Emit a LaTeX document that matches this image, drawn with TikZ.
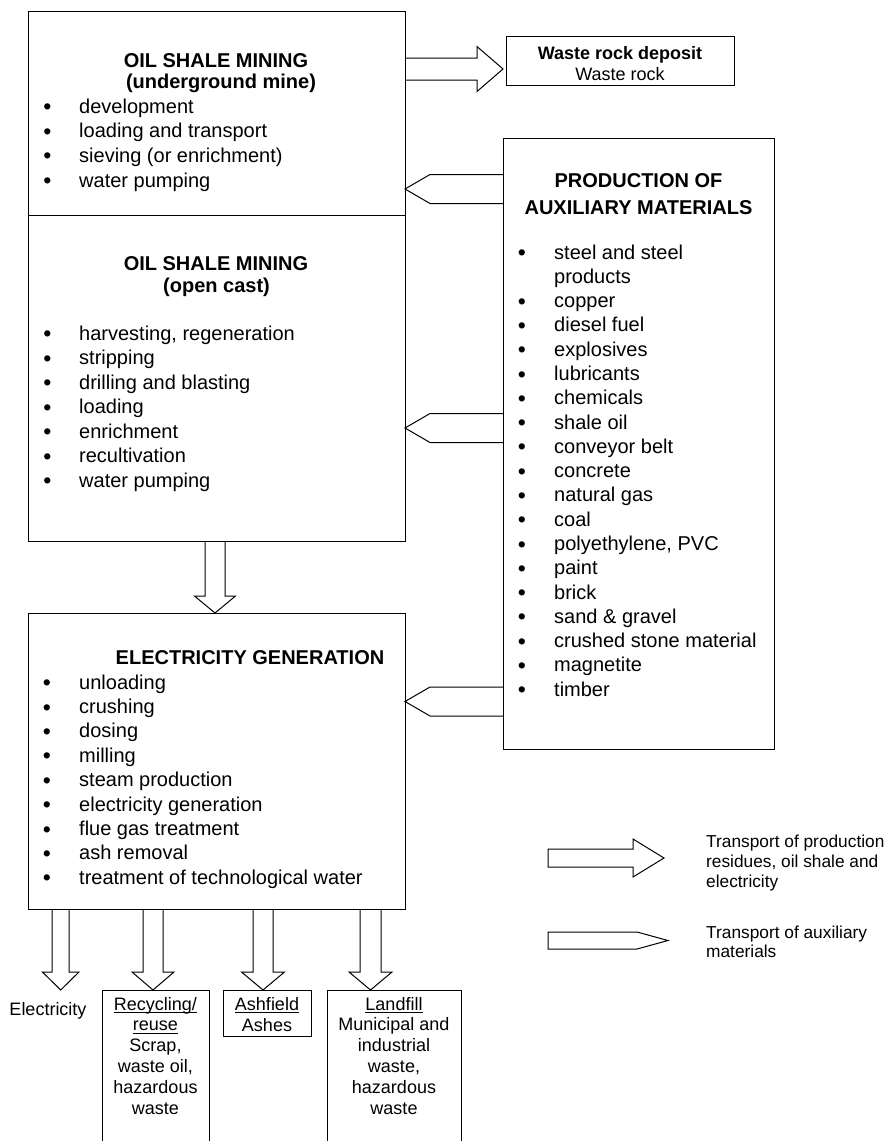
\documentclass[tikz,border=0pt]{standalone}
\usepackage{fontspec}
\setmainfont{Liberation Sans}
\usetikzlibrary{calc}
\newcommand\myul[1]{\setbox0\hbox{#1}\rlap{\rule[-3.2bp]{\wd0}{0.9bp}}\box0}
\newcommand\pentL[2]{\draw[arr] ($(#1)+(0,-14.5)$) -- ($(#2)+(25,-14.5)$) -- (#2) -- ($(#2)+(25,14.5)$) -- ($(#1)+(0,14.5)$);}
% tail, tip, shaft half, head half, head length
\newcommand\blkD[5]{\draw[arr] ($(#1)+(-#3,0)$) -- ($(#2)+(-#3,-#5)$) -- ($(#2)+(-#4,-#5)$) -- (#2) -- ($(#2)+(#4,-#5)$) -- ($(#2)+(#3,-#5)$) -- ($(#1)+(#3,0)$);}
\begin{document}
\begin{tikzpicture}[x=1bp,y=-1bp,
  txt/.style={inner sep=0, yshift=-4.5bp, font=\fontsize{20bp}{24bp}\selectfont},
  ttl/.style={inner sep=0, yshift=-3.5bp, font=\fontsize{20bp}{24bp}\selectfont\bfseries, anchor=mid},
  item/.style={txt, anchor=mid west},
  bul/.style={inner sep=0, yshift=-6bp, anchor=mid, font=\fontsize{23bp}{24bp}\selectfont},
  small/.style={inner sep=0, yshift=-4.5bp, font=\fontsize{18bp}{21bp}\selectfont, anchor=mid},
  smallb/.style={small, font=\fontsize{18bp}{21bp}\selectfont\bfseries},
  leg/.style={inner sep=0, yshift=-4bp, font=\fontsize{17.3bp}{20bp}\selectfont, anchor=mid west},
  box/.style={draw, line width=1bp, anchor=north west, inner sep=0, outer sep=0},
  arr/.style={draw, line width=1bp, line join=miter}]
\useasboundingbox (0,0) rectangle (891,1141);
\fill[white] (0,0) rectangle (891,1141);

% ---------- boxes ----------
\node[box, minimum width=377bp, minimum height=204bp] (ug) at (28,11) {};
\node[box, minimum width=377bp, minimum height=326bp] (oc) at (28,215) {};
\node[box, minimum width=377bp, minimum height=296bp] (el) at (28,613) {};
\node[box, minimum width=271bp, minimum height=611bp] (aux) at (503,138) {};
\node[box, minimum width=228bp, minimum height=49bp] (waste) at (506,36) {};
\node[box, minimum width=107bp, minimum height=165bp] (rec) at (102,990) {};
\node[box, minimum width=88bp, minimum height=46bp] (ash) at (223,990) {};
\node[box, minimum width=134bp, minimum height=165bp] (land) at (327,990) {};

% ---------- underground mine ----------
\node[ttl] (ugt1) at (216,61) {OIL SHALE MINING};
\node[ttl] (ugt2) at (221,82) {(underground mine)};
\foreach \t [count=\i from 0] in {development, loading and transport, sieving (or enrichment), water pumping}{
  \node[bul] (ugb\i) at (47.5,{106+24.67*\i}) {•};
  \node[item] (ugi\i) at (79,{106+24.67*\i}) {\t};
}

% ---------- open cast ----------
\node[ttl] (oct1) at (216,264) {OIL SHALE MINING};
\node[ttl] (oct2) at (216.5,286) {(open cast)};
\foreach \t [count=\i from 0] in {{harvesting, regeneration}, stripping, drilling and blasting, loading, enrichment, recultivation, water pumping}{
  \node[bul] (ocb\i) at (47.5,{333+24.5*\i}) {•};
  \node[item] (oci\i) at (79,{333+24.5*\i}) {\t};
}

% ---------- electricity generation ----------
\node[ttl] (elt) at (250,658) {ELECTRICITY GENERATION};
\foreach \t [count=\i from 0] in {unloading, crushing, dosing, milling, steam production, electricity generation, flue gas treatment, ash removal, treatment of technological water}{
  \node[bul] (elb\i) at (47,{682+24.4*\i}) {•};
  \node[item] (eli\i) at (79,{682+24.4*\i}) {\t};
}

% ---------- auxiliary materials ----------
\node[ttl] (auxt1) at (638.5,181) {PRODUCTION OF};
\node[ttl] (auxt2) at (638.5,208) {AUXILIARY MATERIALS};
\node[item] (auxi1) at (554,{252+24.28}) {products};
\foreach \t [count=\i from 0] in {steel and steel, , copper, diesel fuel, explosives, lubricants, chemicals, shale oil, conveyor belt, concrete, natural gas, coal, {polyethylene, PVC}, paint, brick, sand \& gravel, crushed stone material, magnetite, timber}{
  \ifnum\i=1\relax\else
  \node[bul] (auxb\i) at (522,{252+24.28*\i}) {•};
  \node[item] (auxi\i) at (554,{252+24.28*\i}) {\t};
  \fi
}

% ---------- waste rock ----------
\node[smallb] (wt1) at (620,52) {Waste rock deposit};
\node[small] (wt2) at (620,73) {Waste rock};

% ---------- bottom outputs ----------
\node[small] (elec) at (48,1008) {Electricity};
\foreach \t [count=\i from 0] in {\myul{Recycling/}, \myul{reuse}, {Scrap,}, {waste oil,}, hazardous, waste}{
  \node[small] (rect\i) at (155.5,{1003+20.8*\i}) {\t};
}
\node[small] (asht0) at (267,1003) {\myul{Ashfield}};
\node[small] (asht1) at (267,1024) {Ashes};
\foreach \t [count=\i from 0] in {\myul{Landfill}, Municipal and, industrial, {waste,}, hazardous, waste}{
  \node[small] (landt\i) at (394,{1003+20.8*\i}) {\t};
}

% ---------- connectors ----------
% mining -> waste rock
\coordinate (w0) at (ug.east |- 0,69);
\coordinate (w1) at ($(waste.west |- 0,69)+(-3,0)$);
\draw[arr] ($(w0)+(0,-11)$) -- ($(w1)+(-26,-11)$) -- ($(w1)+(-26,-22.5)$) -- (w1) -- ($(w1)+(-26,22.5)$) -- ($(w1)+(-26,11)$) -- ($(w0)+(0,11)$);

% auxiliary -> consumers
\coordinate (a1s) at (aux.west |- 0,189);
\coordinate (a1t) at (ug.east |- 0,189);
\pentL{a1s}{a1t}
\coordinate (a2s) at (aux.west |- 0,428);
\coordinate (a2t) at (oc.east |- 0,428);
\pentL{a2s}{a2t}
\coordinate (a3s) at (aux.west |- 0,701.5);
\coordinate (a3t) at (el.east |- 0,701.5);
\pentL{a3s}{a3t}

% mining -> electricity
\coordinate (m0) at (oc.south -| 215,0);
\coordinate (m1) at (el.north -| 215,0);
\blkD{m0}{m1}{10}{20.5}{17}

% electricity -> outputs
\coordinate (e1s) at (el.south -| 60.7,0);
\coordinate (e1t) at (60.7,990);
\blkD{e1s}{e1t}{8.5}{18.3}{18}
\coordinate (e2s) at (el.south -| 153,0);
\coordinate (e2t) at (rec.north -| 153,0);
\blkD{e2s}{e2t}{10}{21}{18}
\coordinate (e3s) at (el.south -| 263,0);
\coordinate (e3t) at (ash.north -| 263,0);
\blkD{e3s}{e3t}{10}{21.5}{18}
\coordinate (e4s) at (el.south -| 370.5,0);
\coordinate (e4t) at (land.north -| 370.5,0);
\blkD{e4s}{e4t}{10.5}{21.5}{18}

% ---------- legend ----------
\draw[arr] (548,849) -- (633,849) -- (633,839) -- (664,858) -- (633,877) -- (633,867) -- (548,867) -- cycle;
\draw[arr] (548,932) -- (637,932) -- (668,940.5) -- (637,949) -- (548,949) -- cycle;
\node[leg] (l1) at (706,841) {Transport of production};
\node[leg] (l2) at (706,861) {residues, oil shale and};
\node[leg] (l3) at (706,881) {electricity};
\node[leg] (l4) at (706,932) {Transport of auxiliary};
\node[leg] (l5) at (706,951) {materials};
\end{tikzpicture}
\end{document}
